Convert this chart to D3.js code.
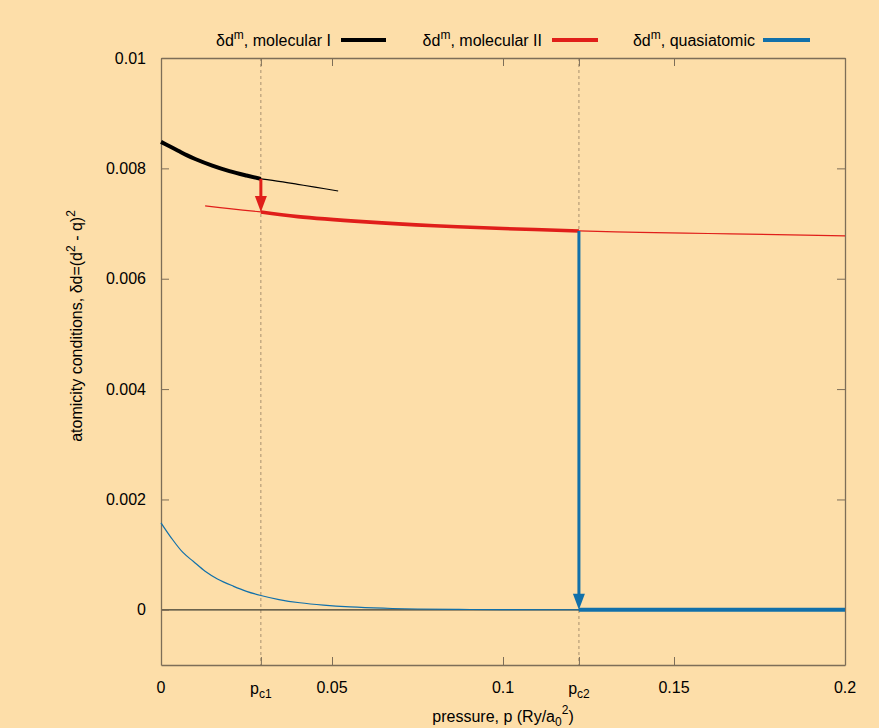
<!DOCTYPE html>
<html><head><meta charset="utf-8">
<script src="https://cdn.jsdelivr.net/npm/d3@7"></script>
<style>body{margin:0;background:#fddea9;}svg{display:block;font-family:"Liberation Sans",Arial,sans-serif;}</style>
</head><body>
<script>
// ---- data ----
const pc1 = 0.0292, pc2 = 0.1222;
const xTicks = [0, 0.05, 0.1, 0.15, 0.2];
const xTickLabels = ["0", "0.05", "0.1", "0.15", "0.2"];
const yTicks = [0, 0.002, 0.004, 0.006, 0.008, 0.01];
const yTickLabels = ["0", "0.002", "0.004", "0.006", "0.008", "0.01"];
const molI_thick_p = [0, 0.0025, 0.005, 0.0075, 0.01, 0.015, 0.02, 0.025, 0.0292];
const molI_thick_d = [0.00848, 0.00840, 0.00832, 0.00824, 0.00817, 0.00805, 0.00795, 0.00787, 0.00781];
const molI_thin_p = [0.0292, 0.035, 0.04, 0.045, 0.0518];
const molI_thin_d = [0.00781, 0.00776, 0.00771, 0.00766, 0.00759];
const molII_thin1_p = [0.0129, 0.02, 0.0292];
const molII_thin1_d = [0.00732, 0.00727, 0.00721];
const molII_thick_p = [0.0292, 0.04, 0.06, 0.08, 0.1, 0.1222];
const molII_thick_d = [0.00721, 0.007125, 0.00703, 0.00696, 0.00691, 0.006866];
const molII_thin2_p = [0.1222, 0.14, 0.16, 0.18, 0.2];
const molII_thin2_d = [0.006866, 0.00684, 0.00682, 0.00680, 0.006775];
const quasi_thin_p = [0, 0.003, 0.0064, 0.0095, 0.0129, 0.0165, 0.0211, 0.025, 0.0292, 0.0345, 0.0406, 0.0475, 0.0553, 0.065, 0.075, 0.087, 0.1, 0.1222, 0.2];
const quasi_thin_d = [0.001576, 0.001305, 0.001040, 0.000875, 0.000700, 0.000560, 0.000430, 0.000335, 0.000260, 0.000186, 0.000128, 0.000085, 0.000053, 0.000029, 0.000015, 0.000007, 0.000003, 0.000001, 0];
const quasi_thick_p = [0.1222, 0.2];
const quasi_thick_d = [0, 0];

// ---- layout ----
const W = 879, H = 728;
const mL = 161, mR = 845, mT = 58, mB = 665;
const cBlack = "#000000", cRed = "#e01e1a", cBlue = "#1170aa", cBorder = "#7d6e58";
const FS = 16, FSS = 12;

const svg = d3.select("body").append("svg").attr("width", W).attr("height", H);
svg.append("rect").attr("width", W).attr("height", H).attr("fill", "#fddea9");

const x = d3.scaleLinear().domain([0, 0.2]).range([mL, mR]);
const y = d3.scaleLinear().domain([-0.001, 0.01]).range([mB, mT]);

// dashed vertical lines at pc1, pc2
[pc1, pc2].forEach(p => {
  svg.append("line").attr("x1", x(p)).attr("x2", x(p)).attr("y1", mT).attr("y2", mB)
    .attr("stroke", "#a89070").attr("stroke-width", 1).attr("stroke-dasharray", "3,3");
});

// zero line
svg.append("line").attr("x1", mL).attr("x2", mR).attr("y1", y(0)).attr("y2", y(0))
  .attr("stroke", "#3a3a30").attr("stroke-width", 1.2);

// axes with inward ticks
const xb = svg.append("g").attr("transform", `translate(0,${mB})`)
  .call(d3.axisBottom(x).tickValues([...xTicks, pc1, pc2]).tickSizeInner(-8).tickSizeOuter(0).tickFormat(""));
const xt = svg.append("g").attr("transform", `translate(0,${mT})`)
  .call(d3.axisTop(x).tickValues([...xTicks, pc1, pc2]).tickSizeInner(-8).tickSizeOuter(0).tickFormat(""));
const yl = svg.append("g").attr("transform", `translate(${mL},0)`)
  .call(d3.axisLeft(y).tickValues(yTicks).tickSizeInner(-8).tickSizeOuter(0).tickFormat(""));
const yr = svg.append("g").attr("transform", `translate(${mR},0)`)
  .call(d3.axisRight(y).tickValues(yTicks).tickSizeInner(-8).tickSizeOuter(0).tickFormat(""));
[xb, xt, yl, yr].forEach(g => {
  g.selectAll("path.domain").attr("stroke", cBorder).attr("stroke-width", 1.3);
  g.selectAll(".tick line").attr("stroke", cBorder).attr("stroke-width", 1);
});

// tick labels
svg.append("g").selectAll("text").data(xTicks).join("text")
  .attr("x", d => x(d)).attr("y", 693).attr("text-anchor", "middle")
  .attr("font-size", FS).attr("fill", "#000").text((d, i) => xTickLabels[i]);
[[pc1, "c1"], [pc2, "c2"]].forEach(([p, s]) => {
  const t = svg.append("text").attr("x", x(p)).attr("y", 694).attr("text-anchor", "middle")
    .attr("font-size", FS).attr("fill", "#000");
  t.append("tspan").text("p");
  t.append("tspan").attr("dy", 4).attr("font-size", FSS).text(s);
});
svg.append("g").selectAll("text").data(yTicks).join("text")
  .attr("x", 146).attr("y", d => y(d) + 5.5).attr("text-anchor", "end")
  .attr("font-size", FS).attr("fill", "#000").text((d, i) => yTickLabels[i]);

// axis titles
const xtitle = svg.append("text").attr("x", 503).attr("y", 722).attr("text-anchor", "middle")
  .attr("font-size", FS).attr("fill", "#000");
xtitle.append("tspan").text("pressure, p (Ry/a");
xtitle.append("tspan").attr("dy", 4).attr("font-size", FSS).text("0");
xtitle.append("tspan").attr("dy", -12).attr("font-size", FSS).text("2");
xtitle.append("tspan").attr("dy", 8).text(")");

const ytitle = svg.append("text").attr("transform", `translate(82,326) rotate(-90)`)
  .attr("text-anchor", "middle").attr("font-size", FS).attr("fill", "#000");
ytitle.append("tspan").text("atomicity conditions, δd=(d");
ytitle.append("tspan").attr("dy", -7).attr("font-size", FSS).text("2");
ytitle.append("tspan").attr("dy", 7).text(" - q)");
ytitle.append("tspan").attr("dy", -7).attr("font-size", FSS).text("2");

// curves
const line = d3.line().x(d => x(d[0])).y(d => y(d[1])).curve(d3.curveCatmullRom.alpha(0.5));
const zip = (a, b) => a.map((v, i) => [v, b[i]]);
function drawCurve(ps, ds, color, w) {
  svg.append("path").datum(zip(ps, ds)).attr("d", line).attr("fill", "none")
    .attr("stroke", color).attr("stroke-width", w).attr("stroke-linejoin", "round");
}
drawCurve(quasi_thin_p, quasi_thin_d, cBlue, 1.2);
drawCurve(molI_thin_p, molI_thin_d, cBlack, 1.2);
drawCurve(molII_thin1_p, molII_thin1_d, cRed, 1.2);
drawCurve(molII_thin2_p, molII_thin2_d, cRed, 1.2);
drawCurve(molI_thick_p, molI_thick_d, cBlack, 4);
drawCurve(molII_thick_p, molII_thick_d, cRed, 3.6);
drawCurve(quasi_thick_p, quasi_thick_d, cBlue, 4);

// arrows
function arrow(p, d0, d1, color) {
  const x0 = x(p), y0 = y(d0), y1 = y(d1);
  svg.append("line").attr("x1", x0).attr("x2", x0).attr("y1", y0).attr("y2", y1 - 12)
    .attr("stroke", color).attr("stroke-width", 3);
  svg.append("path").attr("d", `M${x0},${y1} L${x0 - 6},${y1 - 16} L${x0 + 6},${y1 - 16} Z`).attr("fill", color);
}
arrow(pc1, molI_thick_d[molI_thick_d.length - 1], molII_thick_d[0], cRed);
arrow(pc2, molII_thick_d[molII_thick_d.length - 1], 0, cBlue);

// legend
const legend = [
  { label: "molecular I", color: cBlack, tx: 331, lx0: 341, lx1: 386 },
  { label: "molecular II", color: cRed, tx: 542, lx0: 552, lx1: 598 },
  { label: "quasiatomic", color: cBlue, tx: 755, lx0: 763, lx1: 810 }
];
legend.forEach(l => {
  const t = svg.append("text").attr("x", l.tx).attr("y", 46).attr("text-anchor", "end")
    .attr("font-size", FS).attr("fill", "#000");
  t.append("tspan").text("δd");
  t.append("tspan").attr("dy", -7).attr("font-size", FSS).text("m");
  t.append("tspan").attr("dy", 7).text(", " + l.label);
  svg.append("line").attr("x1", l.lx0).attr("x2", l.lx1).attr("y1", 40).attr("y2", 40)
    .attr("stroke", l.color).attr("stroke-width", 4);
});
</script>
</body></html>
